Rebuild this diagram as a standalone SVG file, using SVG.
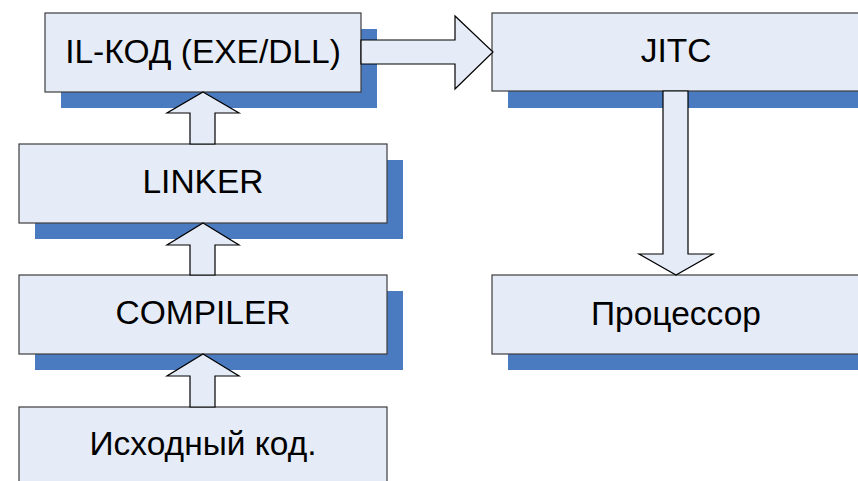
<svg xmlns="http://www.w3.org/2000/svg" width="858" height="481" viewBox="0 0 858 481">
<style>
.sh{fill:#4A7BC1}
.bx{fill:#E6ECF7;stroke:#3C3C3C;stroke-width:1.2}
.t{font-family:"Liberation Sans",Arial,sans-serif;font-size:33.5px;fill:#000;text-anchor:middle}
.ar{fill:#E6ECF7;stroke:#000;stroke-width:1.2;stroke-linejoin:miter}
</style>
<rect x="0" y="0" width="858" height="481" fill="#fff"/>
<g id="il">
<rect class="sh" x="61" y="29" width="316" height="79"/>
<rect class="bx" x="45" y="13" width="316" height="79"/>
<text class="t" x="203" y="63">IL-КОД (EXE/DLL)</text>
</g>
<g id="linker">
<rect class="sh" x="35" y="160" width="368" height="79"/>
<rect class="bx" x="19" y="144" width="368" height="79"/>
<text class="t" x="203" y="193">LINKER</text>
</g>
<g id="compiler">
<rect class="sh" x="35" y="291" width="368" height="79"/>
<rect class="bx" x="19" y="275" width="368" height="79"/>
<text class="t" x="203" y="324">COMPILER</text>
</g>
<g id="source">
<rect class="bx" x="19" y="407" width="368" height="80"/>
<text class="t" x="203" y="455">Исходный код.</text>
</g>
<g id="jitc">
<rect class="sh" x="508" y="29" width="368" height="79"/>
<rect class="bx" x="492" y="13" width="368" height="78"/>
<text class="t" x="676" y="62">JITC</text>
</g>
<g id="cpu">
<rect class="sh" x="508" y="291" width="368" height="79"/>
<rect class="bx" x="492" y="275" width="368" height="79"/>
<text class="t" x="676" y="325">Процессор</text>
</g>
<g id="connectors">
<polygon class="ar" points="203,92 239,113 215,113 215,144 190,144 190,113 167,113"/>
<polygon class="ar" points="203,223 239,245 215,245 215,275 190,275 190,245 167,245"/>
<polygon class="ar" points="203,354 239,376 215,376 215,407 190,407 190,376 167,376"/>
<polygon class="ar" points="361,40 455,40 455,16 493,52 455,89 455,64 361,64"/>
<polygon class="ar" points="663,91 688,91 688,254 713,254 676,275 639,254 663,254"/>
</g>
</svg>
